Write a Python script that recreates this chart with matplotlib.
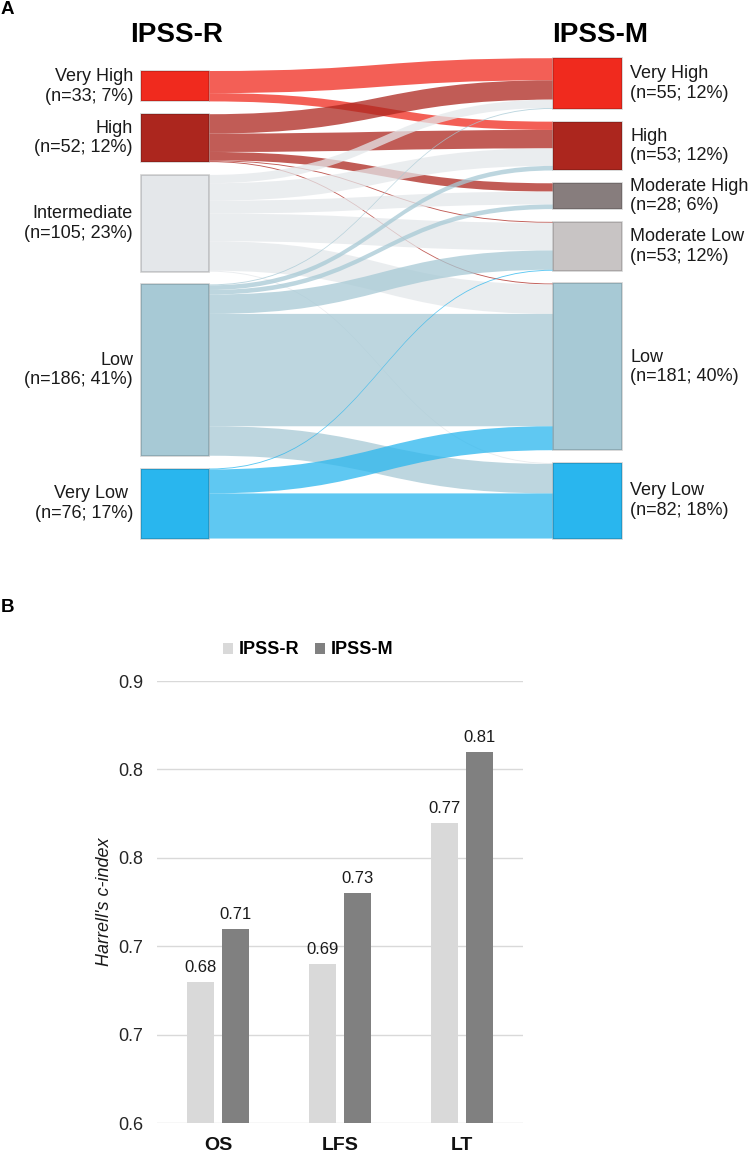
import numpy as np
import matplotlib.pyplot as plt
from matplotlib.patches import Rectangle, PathPatch
from matplotlib.path import Path

plt.rcParams['font.family'] = ['Liberation Sans', 'DejaVu Sans']

# ---- panel A data: IPSS-R (rows) -> IPSS-M (columns), patient counts ----
r_labels = ["Very High", "High", "Intermediate", "Low", "Very Low "]
m_labels = ["Very High", "High", "Moderate High", "Moderate Low", "Low", "Very Low"]
flows = np.array([
    [24,  9,  0,  0,   0,  0],
    [21, 20,  9,  1,   1,  0],
    [ 9, 19, 14, 30,  32,  1],
    [ 1,  5,  5, 21, 122, 32],
    [ 0,  0,  0,  1,  26, 49],
])
r_colors = ["#F02A1E", "#AC261E", "#E4E7EA", "#A7C9D5", "#29B6EE"]
m_colors = ["#F02A1E", "#AC261E", "#877D7D", "#C8C4C4", "#A7C9D5", "#29B6EE"]

# ---- panel B data ----
endpoints = ["OS", "LFS", "LT"]
ipss_r = [0.68, 0.69, 0.77]
ipss_m = [0.71, 0.73, 0.81]
ytick_vals = [0.60, 0.65, 0.70, 0.75, 0.80, 0.85]
ytick_labels = ["0.6", "0.7", "0.7", "0.8", "0.8", "0.9"]

W, H = 749, 1158
fig = plt.figure(figsize=(W / 100, H / 100), dpi=100)

# ================= A: sankey =================
axA = fig.add_axes([0, 1 - 560 / H, 1, 560 / H])
axA.set_xlim(0, W)
axA.set_ylim(-23.3, 584.7)   # y in patient units
axA.axis('off')

GAP = 13.9
r_n = flows.sum(axis=1)
m_n = flows.sum(axis=0)
total = flows.sum()


def stack_tops(counts):
    y = counts.sum() + GAP * (len(counts) - 1)
    tops = []
    for c in counts:
        tops.append(y)
        y -= c + GAP
    return tops


r_tops = stack_tops(r_n)
m_tops = stack_tops(m_n)

xl0, xl1 = 140.7, 209.3
xr0, xr1 = 552.7, 621.7
xm = (xl1 + xr0) / 2

# right side offsets: incoming ordered by source
r_start = np.zeros_like(flows, dtype=float)
for j in range(flows.shape[1]):
    y = m_tops[j]
    for i in range(flows.shape[0]):
        r_start[i, j] = y
        y -= flows[i, j]

for i in range(flows.shape[0]):
    y = r_tops[i]
    for j in range(flows.shape[1]):
        f = flows[i, j]
        if f == 0:
            continue
        ly0, ly1 = y, y - f
        ry0, ry1 = r_start[i, j], r_start[i, j] - f
        verts = [(xl1, ly0), (xm, ly0), (xm, ry0), (xr0, ry0),
                 (xr0, ry1), (xm, ry1), (xm, ly1), (xl1, ly1), (xl1, ly0)]
        codes = [Path.MOVETO, Path.CURVE4, Path.CURVE4, Path.CURVE4,
                 Path.LINETO, Path.CURVE4, Path.CURVE4, Path.CURVE4, Path.CLOSEPOLY]
        axA.add_patch(PathPatch(Path(verts, codes), facecolor=r_colors[i],
                                alpha=0.75, lw=0, zorder=1))
        y -= f

txt_kw = dict(fontsize=13, color='#1a1a1a', va='center', linespacing=1.2)
for i, lab in enumerate(r_labels):
    top, n = r_tops[i], r_n[i]
    axA.add_patch(Rectangle((xl0, top - n), xl1 - xl0, n, facecolor=r_colors[i],
                            edgecolor=(0, 0, 0, 0.18), lw=1.2, zorder=3))
    pct = round(100 * n / total)
    axA.text(133, top - n / 2, f"{lab}\n(n={n}; {pct}%)", ha='right', **txt_kw)

for j, lab in enumerate(m_labels):
    top, n = m_tops[j], m_n[j]
    axA.add_patch(Rectangle((xr0, top - n), xr1 - xr0, n, facecolor=m_colors[j],
                            edgecolor=(0, 0, 0, 0.18), lw=1.2, zorder=3))
    pct = round(100 * n / total)
    axA.text(630, top - n / 2, f"{lab}\n(n={n}; {pct}%)", ha='left', **txt_kw)

fig.text(177 / W, 1 - 35 / H, "IPSS-R", fontsize=20, weight='bold', ha='center', va='center')
fig.text(600 / W, 1 - 35 / H, "IPSS-M", fontsize=20, weight='bold', ha='center', va='center')
fig.text(1 / W, 1 - 10 / H, "A", fontsize=13.5, weight='bold', ha='left', va='center')
fig.text(1 / W, 1 - 607 / H, "B", fontsize=13.5, weight='bold', ha='left', va='center')

# ================= B: bar chart =================
axB = fig.add_axes([157 / W, 1 - 1123.3 / H, 366 / W, (1123.3 - 681) / H])
x = np.arange(len(endpoints))
bw, off = 0.224, 0.146
b1 = axB.bar(x - off, ipss_r, bw, color='#D9D9D9', label='IPSS-R', zorder=3)
b2 = axB.bar(x + off, ipss_m, bw, color='#808080', label='IPSS-M', zorder=3)
for bars, vals in ((b1, ipss_r), (b2, ipss_m)):
    for rect, v in zip(bars, vals):
        axB.annotate(f"{v:.2f}", (rect.get_x() + rect.get_width() / 2, v),
                     xytext=(0, 5), textcoords='offset points',
                     ha='center', va='bottom', fontsize=12, color='#1a1a1a')

axB.set_xlim(-0.5, 2.5)
axB.set_ylim(0.6, 0.85)
axB.set_yticks(ytick_vals)
axB.set_yticklabels(ytick_labels, fontsize=13, color='#262626')
axB.set_xticks(x)
axB.set_xticklabels(endpoints, fontsize=14, weight='bold', color='#111111')
axB.tick_params(axis='both', length=0)
axB.tick_params(axis='y', pad=10)
axB.tick_params(axis='x', pad=10)
axB.yaxis.grid(True, color='#D9D9D9', lw=1)
axB.set_axisbelow(True)
for s in axB.spines.values():
    s.set_visible(False)

fig.text(105 / W, 1 - 902 / H, "Harrell's c-index", rotation=90, ha='center',
         va='center', style='italic', fontsize=13, color='#1a1a1a')

fig.legend(handles=[b1, b2], loc='center', bbox_to_anchor=(308 / W, 1 - 650 / H),
           ncol=2, frameon=False, prop={'weight': 'bold', 'size': 13},
           handlelength=0.55, handleheight=0.55, handletextpad=0.3, columnspacing=0.9)

fig.savefig('out.png', dpi=100)
